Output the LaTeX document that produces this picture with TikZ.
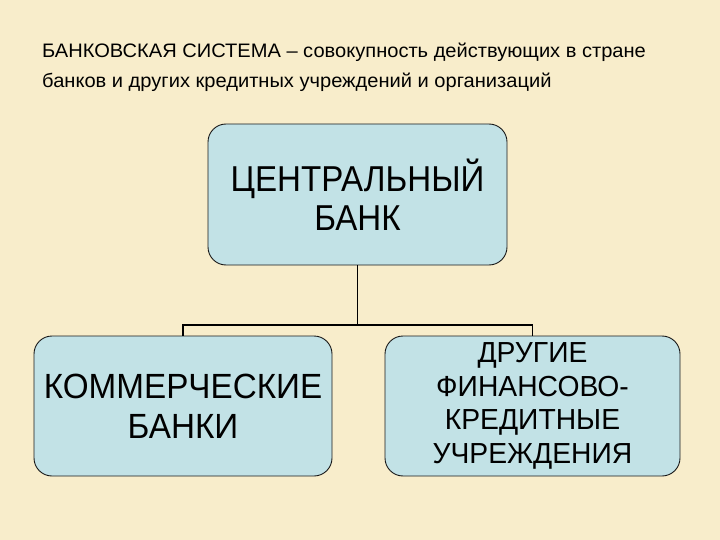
\documentclass[tikz,border=0pt]{standalone}
\usepackage{fontspec}
\usepackage{graphicx}
\setmainfont{Liberation Sans}
\definecolor{bgcol}{HTML}{F8EDCB}
\definecolor{boxcol}{HTML}{C2E2E6}
\definecolor{edgecol}{HTML}{1A1A1A}
\newcommand\sqa[1]{\scalebox{0.92}[1]{#1}}
\newcommand\sqb[1]{\scalebox{0.95}[1]{#1}}
\newcommand\sqc[1]{\scalebox{0.975}[1]{#1}}
\begin{document}
\begin{tikzpicture}[x=1pt,y=-1pt,
  box/.style={draw=edgecol, fill=boxcol, rounded corners=18pt, line width=0.9pt, align=center, inner sep=0pt},
  conn/.style={draw=black, line width=1.4pt}]
\fill[bgcol] (0,0) rectangle (720,540);
\useasboundingbox (0,0) rectangle (720,540);

\node[anchor=base west, inner sep=0pt, font=\fontsize{19.5}{22}\selectfont] (h1) at (42,58) {\scalebox{1.03}[1]{БАНКОВСКАЯ СИСТЕМА – совокупность действующих в стране}};
\node[anchor=base west, inner sep=0pt, font=\fontsize{19.5}{22}\selectfont] (h2) at (42,88) {\scalebox{1.03}[1]{банков и других кредитных учреждений и организаций}};

\node[box, minimum width=299pt, minimum height=141pt, font=\fontsize{36}{39}\selectfont] (cb) at (357.5,194.5)
  {\sqa{ЦЕНТРАЛЬНЫЙ}\\\sqa{БАНК}};
\node[box, minimum width=298pt, minimum height=140pt, font=\fontsize{35}{40}\selectfont] (kb) at (183,406)
  {\sqb{КОММЕРЧЕСКИЕ}\\\sqb{БАНКИ}};
\node[box, minimum width=295pt, minimum height=140pt, font=\fontsize{29}{33.5}\selectfont] (dr) at (532.5,406)
  {\raisebox{-2pt}{\parbox{290pt}{\centering\sqc{ДРУГИЕ}\\\sqc{ФИНАНСОВО-}\\\sqc{КРЕДИТНЫЕ}\\\sqc{УЧРЕЖДЕНИЯ}}}};

\coordinate (j) at (357.5,325);
\draw[conn] (cb.south) -- (j);
\draw[conn] (kb.north) -- (kb.north |- j) -- (dr.north |- j) -- (dr.north);
\end{tikzpicture}
\end{document}
